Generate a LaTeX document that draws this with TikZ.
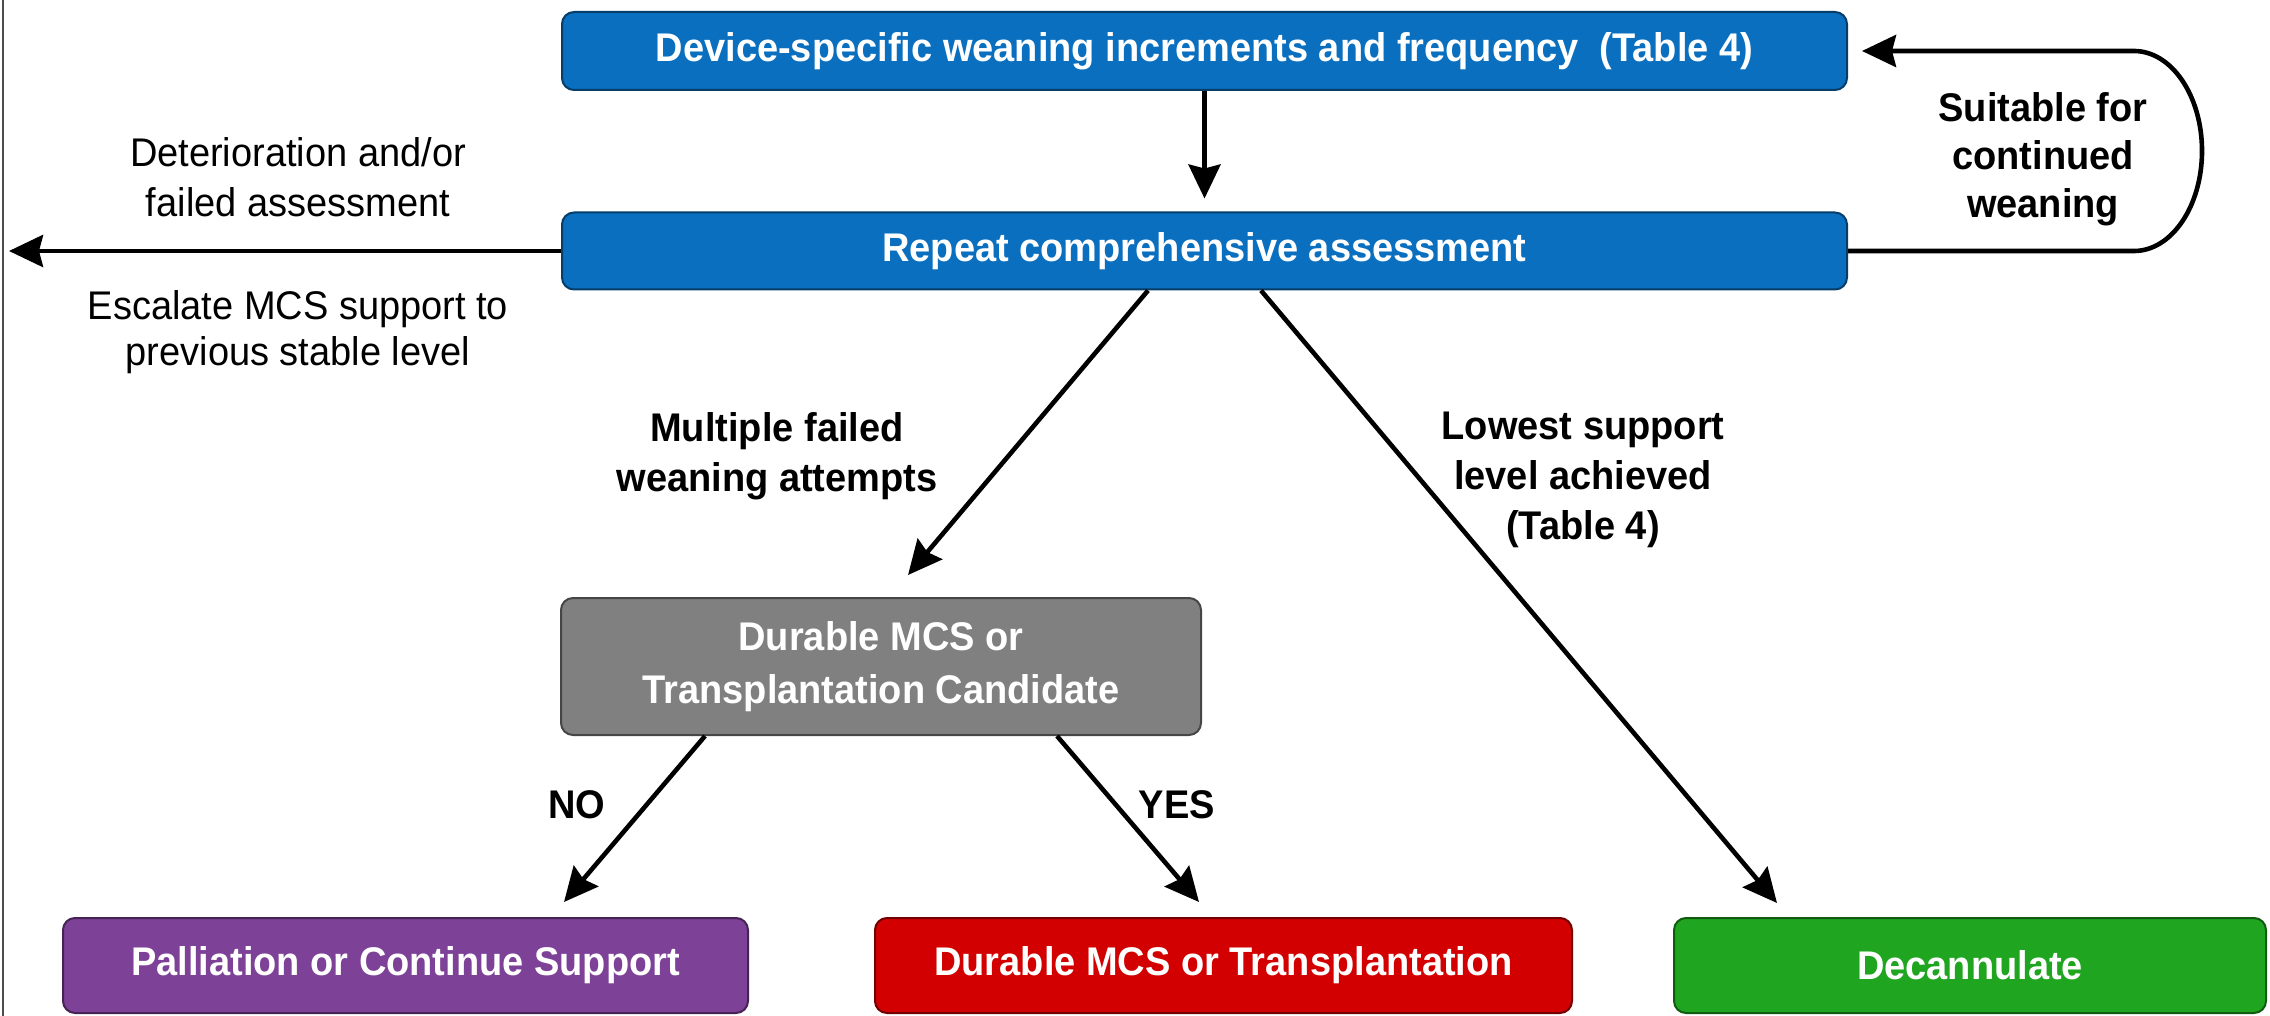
\documentclass[tikz,border=0pt]{standalone}
\usepackage{fontspec}
\setmainfont{Liberation Sans}[FakeStretch=0.95]
\usetikzlibrary{arrows.meta}
\definecolor{cblue}{HTML}{0A6FBF}
\definecolor{cgray}{HTML}{808080}
\definecolor{cpurple}{HTML}{7D4198}
\definecolor{cred}{HTML}{D20000}
\definecolor{cgreen}{HTML}{1FA51F}
\begin{document}
\begin{tikzpicture}[x=1pt,y=-1pt,
  box/.style={rounded corners=12pt, draw=#1!55!black, fill=#1, line width=2pt,
    text=white, font=\fontsize{40}{53}\selectfont\bfseries, align=center, inner sep=0pt},
  arr/.style={line width=4.6pt, -{Stealth[length=34pt,width=32pt,inset=4pt]}},
  blbl/.style={font=\fontsize{40}{50}\selectfont\bfseries, align=center, inner sep=0pt, anchor=north},
  rlbl/.style={font=\fontsize{40}{50}\selectfont, align=center, inner sep=0pt, anchor=north}]
\useasboundingbox (0,0) rectangle (2270,1016);
\draw[line width=2pt, black!70] (2.5,0) -- (2.5,1016);

\node[box=cblue, minimum width=1285pt, minimum height=78pt] (top) at (1204.5,51)
  {Device-specific weaning increments and frequency \ (Table 4)};
\node[box=cblue, minimum width=1285pt, minimum height=77pt] (rep) at (1204.5,251)
  {Repeat comprehensive assessment};
\node[box=cgray, minimum width=640pt, minimum height=137pt] (cand) at (881,666.5)
  {Durable MCS or\\Transplantation Candidate};
\node[box=cpurple, minimum width=685pt, minimum height=95pt] (pall) at (405.5,965.5)
  {Palliation or Continue Support};
\node[box=cred, minimum width=697pt, minimum height=95pt] (dur) at (1223.5,965.5)
  {Durable MCS or Transplantation};
\node[box=cgreen, minimum width=592pt, minimum height=95pt] (dec) at (1970,965.5)
  {Decannulate};

\coordinate (leftend) at (9,251);

% labels
\node[rlbl] (ldet) at (298,137) {Deterioration and/or\\failed assessment};
\node[rlbl, font=\fontsize{40}{46}\selectfont] (lesc) at (298,290) {Escalate MCS support to\\previous stable level};
\node[blbl, font=\fontsize{40}{48}\selectfont\bfseries] (lsuit) at (2043,92) {Suitable for\\continued\\weaning};
\node[blbl] (lmult) at (777,412) {Multiple failed\\weaning attempts};
\node[blbl, font=\fontsize{40}{50}\selectfont\bfseries] (llow) at (1583,412) {Lowest support\\level achieved\\(Table 4)};
\node[blbl, anchor=base] (lno) at (577,818) {NO};
\node[blbl, anchor=base] (lyes) at (1177,818) {YES};

% connectors
\draw[arr] (top.south) -- ([yshift=13pt]rep.north);
\draw[arr] (rep.west) -- (leftend);
\draw[arr] (rep.east) -- (2134,251) arc[start angle=90, end angle=-90, x radius=68, y radius=100]
  -- ([xshift=14pt]top.east);
\draw[arr] ([xshift=-56.5pt]rep.south) -- ([xshift=27pt,yshift=22pt]cand.north);
\draw[arr] ([xshift=56.5pt]rep.south) -- ([xshift=-193pt,yshift=14pt]dec.north);
\draw[arr] ([xshift=-176pt]cand.south) -- ([xshift=158.5pt,yshift=15pt]pall.north);
\draw[arr] ([xshift=176pt]cand.south) -- ([xshift=-24.5pt,yshift=15pt]dur.north);
\end{tikzpicture}
\end{document}
